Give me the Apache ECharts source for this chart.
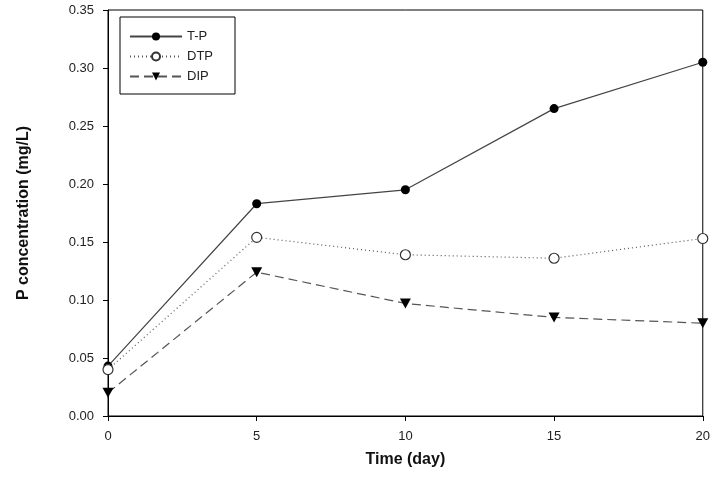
<!DOCTYPE html>
<html>
<head>
<meta charset="utf-8">
<script src="https://cdn.jsdelivr.net/npm/echarts@6/dist/echarts.min.js"></script>
<style>
  html, body { margin: 0; padding: 0; background: #fff; }
  #main { width: 713px; height: 489px; }
</style>
</head>
<body>
<div id="main"></div>
<script>
var days = [0, 5, 10, 15, 20];
var tp  = [0.043, 0.183, 0.195, 0.265, 0.305];
var dtp = [0.040, 0.154, 0.139, 0.136, 0.153];
var dip = [0.020, 0.124, 0.097, 0.085, 0.080];

function pairs(ys) {
    return days.map(function (d, i) { return [d, ys[i]]; });
}

var chart = echarts.init(document.getElementById('main'));
var font = 'Liberation Sans, Arial, sans-serif';

chart.setOption({
    animation: false,
    grid: {
        left: 108, right: 10, top: 10, bottom: 73,
        show: true, borderColor: '#000', borderWidth: 1
    },
    legend: {
        orient: 'vertical',
        left: 120, top: 17,
        itemWidth: 52, itemHeight: 10, itemGap: 7,
        padding: [13, 22, 11, 9],
        borderColor: '#000', borderWidth: 1,
        textStyle: { fontFamily: font, fontSize: 13, color: '#222' },
        data: ['T-P', 'DTP', 'DIP']
    },
    xAxis: {
        type: 'value', min: 0, max: 20, interval: 5,
        splitLine: { show: false },
        axisLine: { lineStyle: { color: '#000' } },
        axisTick: { inside: false, length: 5, lineStyle: { color: '#000' } },
        axisLabel: { fontFamily: font, fontSize: 13, color: '#222', margin: 14 },
        name: 'Time (day)', nameLocation: 'middle', nameGap: 36,
        nameTextStyle: { fontFamily: font, fontSize: 16, fontWeight: 'bold', color: '#111' }
    },
    yAxis: {
        type: 'value', min: 0, max: 0.35, interval: 0.05,
        splitLine: { show: false },
        axisLine: { show: true, lineStyle: { color: '#000' } },
        axisTick: { show: true, length: 5, lineStyle: { color: '#000' } },
        axisLabel: {
            fontFamily: font, fontSize: 13, color: '#222', margin: 14,
            formatter: function (v) { return v.toFixed(2); }
        },
        name: 'P concentration (mg/L)', nameLocation: 'middle', nameGap: 76,
        nameTextStyle: { fontFamily: font, fontSize: 16, fontWeight: 'bold', color: '#111' }
    },
    series: [{
        name: 'T-P', type: 'line', data: pairs(tp),
        symbol: 'circle', symbolSize: 9,
        itemStyle: { color: '#000' },
        lineStyle: { color: '#444', width: 1.2, type: 'solid' }
    }, {
        name: 'DTP', type: 'line', data: pairs(dtp),
        symbol: 'circle', symbolSize: 10,
        itemStyle: { color: '#fff', borderColor: '#333', borderWidth: 1.2 },
        lineStyle: { color: '#555', width: 1.2, type: [1, 3] }
    }, {
        name: 'DIP', type: 'line', data: pairs(dip),
        symbol: 'triangle', symbolSize: [11, 10], symbolRotate: 180,
        itemStyle: { color: '#000' },
        lineStyle: { color: '#555', width: 1.2, type: [9, 5] }
    }]
});
</script>
</body>
</html>
